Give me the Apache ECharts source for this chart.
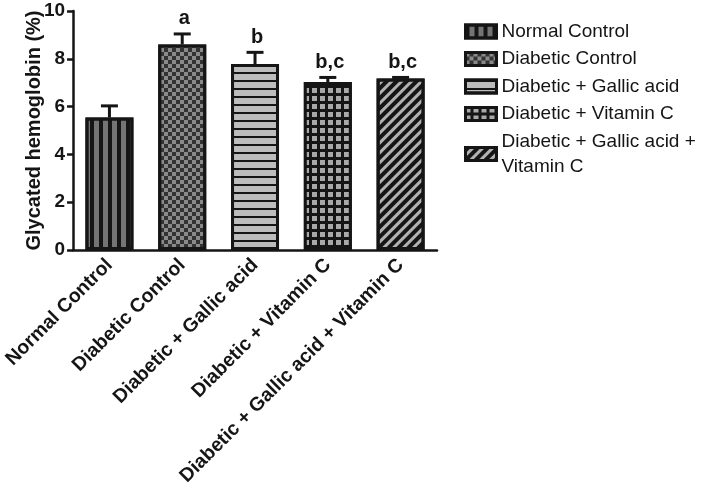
<!DOCTYPE html>
<html><head><meta charset="utf-8">
<script src="https://cdn.jsdelivr.net/npm/echarts@6/dist/echarts.min.js"></script>
<style>html,body{margin:0;padding:0;background:#fff}#c{width:709px;height:498px}</style>
</head><body><div id="c"></div>
<script>
const categories = ['Normal Control', 'Diabetic Control', 'Diabetic + Gallic acid', 'Diabetic + Vitamin C', 'Diabetic + Gallic acid + Vitamin C'];
const means = [5.54, 8.60, 7.78, 7.03, 7.18];
const errors = [0.49, 0.44, 0.49, 0.19, 0.04];
const letters = ['', 'a', 'b', 'b,c', 'b,c'];
const yTicks = [0, 2, 4, 6, 8, 10];
const yTitle = 'Glycated hemoglobin (%)';

const FONT = '"Liberation Sans", Arial, sans-serif';
const INK = '#151515';

const styles = [
  { color: '#747474', decal: { symbol: 'rect', symbolSize: 1, color: INK, dashArrayX: [4, 5], dashArrayY: [1, 0] } },
  { color: '#8a8a8a', decal: { symbol: 'rect', symbolSize: 1, color: '#333333', dashArrayX: [[4, 4], [0, 4, 4, 0]], dashArrayY: [4, 0] } },
  { color: '#bcbcbc', decal: { symbol: 'rect', symbolSize: 1, color: INK, dashArrayX: [1, 0], dashArrayY: [2, 6] } },
  { color: INK, decal: { symbol: 'rect', symbolSize: 1, color: '#a9a9a9', dashArrayX: [5, 3], dashArrayY: [5, 3] } },
  { color: '#b2b2b2', decal: { symbol: 'rect', symbolSize: 1, color: INK, dashArrayX: [1, 0], dashArrayY: [4, 3], rotation: -Math.PI / 4 } }
];

const barSeries = categories.map((name, i) => ({
  type: 'bar',
  name: name,
  data: means.map((v, j) => (j === i ? v : '-')),
  barWidth: 48,
  barGap: '-100%',
  itemStyle: {
    color: styles[i].color,
    decal: styles[i].decal,
    borderColor: INK,
    borderWidth: 3
  },
  z: 2
}));

const errSeries = {
  type: 'custom',
  name: 'err',
  data: means.map((m, i) => [i, m, errors[i]]),
  z: 5,
  renderItem: function (params, api) {
    const i = api.value(0);
    const m = api.value(1);
    const e = api.value(2);
    const base = api.coord([i, m]);
    const top = api.coord([i, m + e]);
    const capHalf = 8.5;
    return {
      type: 'group',
      children: [
        { type: 'line', shape: { x1: base[0], y1: base[1], x2: top[0], y2: top[1] }, style: { stroke: INK, lineWidth: 3 } },
        { type: 'line', shape: { x1: top[0] - capHalf, y1: top[1], x2: top[0] + capHalf, y2: top[1] }, style: { stroke: INK, lineWidth: 3 } },
        { type: 'text', style: { text: letters[i], x: top[0] + 2, y: top[1] - 5, align: 'center', verticalAlign: 'bottom', fontSize: 20, fontWeight: 'bold', fontFamily: FONT, fill: INK } }
      ]
    };
  }
};

const chart = echarts.init(document.getElementById('c'), null, { renderer: 'canvas' });
chart.setOption({
  animation: false,
  backgroundColor: '#ffffff',
  grid: { left: 72, right: 272, top: 11, bottom: 248, containLabel: false },
  legend: {
    data: categories,
    orient: 'vertical',
    left: 459,
    top: 14,
    icon: 'rect',
    itemWidth: 31,
    itemHeight: 13,
    itemGap: 2.5,
    itemStyle: { borderColor: INK, borderWidth: 3 },
    textStyle: { fontSize: 19, fontFamily: FONT, color: INK, lineHeight: 25 },
    formatter: function (name) {
      return name === 'Diabetic + Gallic acid + Vitamin C' ? 'Diabetic + Gallic acid +\nVitamin C' : name;
    },
    selectedMode: false
  },
  xAxis: {
    type: 'category',
    data: categories,
    axisLine: { lineStyle: { color: INK, width: 2.5 } },
    axisTick: { alignWithLabel: true, length: 6, lineStyle: { color: INK, width: 2.5 } },
    axisLabel: { rotate: 45, margin: 12, fontSize: 19.5, fontWeight: 'bold', fontFamily: FONT, color: INK, interval: 0 }
  },
  yAxis: {
    type: 'value',
    min: yTicks[0],
    max: yTicks[yTicks.length - 1],
    interval: yTicks[1] - yTicks[0],
    name: yTitle,
    nameLocation: 'middle',
    nameGap: 29,
    nameMoveOverlap: false,
    nameTextStyle: { fontSize: 20, fontWeight: 'bold', fontFamily: FONT, color: INK },
    axisLine: { show: true, lineStyle: { color: INK, width: 2.5 } },
    axisTick: { show: true, length: 6, lineStyle: { color: INK, width: 2.5 } },
    axisLabel: { margin: 8, fontSize: 19, fontWeight: 'bold', fontFamily: FONT, color: INK },
    splitLine: { show: false }
  },
  series: barSeries.concat([errSeries])
});
</script>
</body></html>
